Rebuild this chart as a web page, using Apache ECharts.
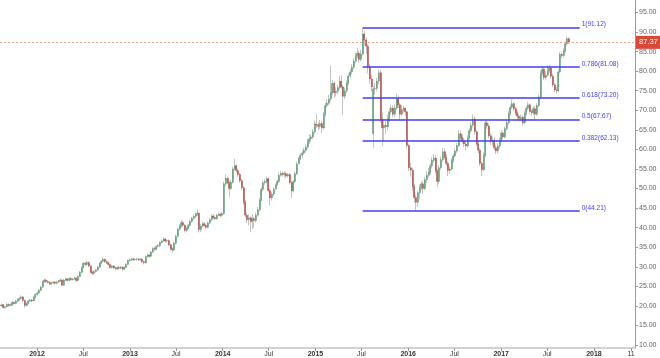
<!DOCTYPE html>
<html><head><meta charset="utf-8">
<script src="https://cdn.jsdelivr.net/npm/echarts@6/dist/echarts.min.js"></script>
<style>html,body{margin:0;padding:0;background:#fff}#c{width:660px;height:358px}</style>
</head><body><div id="c"></div>
<script>
// ---- data (weekly candles) ----
const startDate = '2011-08-08';
const opens = [
20.2,20.0,20.3,19.6,19.8,20.4,20.1,20.3,20.9,20.6,
21.2,21.6,21.9,22.3,21.4,20.1,20.6,21.2,21.5,21.3,
22.2,22.9,23.3,24.0,24.8,26.2,26.6,26.2,26.0,25.6,
25.9,26.1,25.8,26.1,26.4,26.6,25.3,26.6,26.9,26.5,
27.0,26.7,26.9,27.1,26.5,27.5,28.6,29.8,30.9,30.6,
31.1,30.2,28.6,28.3,28.8,29.2,29.9,30.9,31.4,31.9,
31.3,31.0,30.6,29.8,30.2,29.7,29.5,29.8,29.6,29.9,
29.4,29.8,30.6,31.6,31.8,32.0,31.8,31.9,32.0,31.8,
31.9,31.3,31.0,32.6,33.0,32.7,33.8,34.7,34.5,35.2,
35.4,36.2,36.6,37.1,36.6,36.7,35.6,34.6,34.3,36.0,
37.8,39.6,40.4,41.3,40.6,39.3,39.8,40.6,41.6,42.4,
42.9,43.4,43.7,39.5,40.4,41.0,40.6,40.1,41.2,42.0,
43.0,42.6,42.3,43.2,43.4,43.1,43.6,51.2,52.6,51.5,
50.0,51.6,55.0,55.8,54.6,53.6,52.0,50.2,46.5,43.2,
42.0,42.5,41.6,42.3,41.8,43.2,44.6,47.0,49.8,51.5,
51.8,52.5,49.5,47.6,48.6,49.8,50.8,51.8,53.4,53.9,
53.6,53.8,53.2,53.6,51.5,49.4,51.8,53.8,56.3,57.6,
58.5,59.1,59.8,60.6,62.1,62.7,63.2,64.5,66.5,66.3,
65.9,66.6,65.5,69.0,71.2,71.8,72.9,74.5,76.9,74.5,
74.9,75.8,77.4,76.0,73.6,75.0,77.0,78.8,79.8,81.0,
82.6,84.0,84.6,83.0,84.4,89.5,88.0,86.4,81.0,78.0,
64.0,75.5,75.6,77.5,79.6,67.8,65.5,66.2,65.8,67.8,
69.6,70.6,69.0,70.6,72.9,71.4,69.0,70.2,70.5,69.6,
61.0,55.3,54.7,50.5,47.7,46.5,48.9,50.2,51.2,50.0,
52.3,53.4,54.2,55.8,57.2,57.8,54.5,51.8,55.3,57.4,
59.4,58.0,56.4,54.6,55.0,57.2,58.3,59.6,61.0,64.0,
63.0,62.2,61.4,60.9,63.0,64.8,66.2,67.8,64.5,61.4,
59.8,56.4,54.8,58.5,66.8,66.0,63.5,62.0,62.3,60.4,
59.6,60.9,62.3,64.2,63.2,65.3,66.8,69.2,70.8,71.7,
70.4,69.3,68.5,67.9,68.2,66.8,69.2,70.5,71.4,69.7,
69.4,70.4,69.0,71.2,73.4,79.5,80.5,78.4,79.0,80.2,
80.8,78.7,76.5,75.2,75.0,79.8,84.3,84.0,85.2,87.0,
88.3];
const highs = [
20.5,20.6,20.5,20.1,20.7,20.6,20.6,21.2,21.1,21.5,
21.9,22.2,22.7,22.5,21.6,20.9,21.5,21.8,21.8,22.5,
23.2,23.6,24.3,25.1,26.5,27.0,26.9,26.6,26.3,26.2,
26.4,26.3,26.4,26.7,27.0,26.8,26.9,27.2,27.1,27.3,
27.3,27.2,27.4,27.3,27.8,28.9,30.1,31.3,31.3,31.5,
31.4,30.4,29.0,29.1,29.5,30.2,31.2,31.7,32.3,32.1,
31.7,31.3,30.9,30.5,30.5,30.0,30.1,30.2,30.2,30.1,
30.1,30.9,31.9,32.1,32.3,32.3,32.2,32.3,32.3,32.2,
32.2,31.6,32.9,33.4,33.3,34.1,35.0,35.1,35.5,35.8,
36.5,37.0,37.6,37.4,37.1,37.0,35.9,35.0,36.4,38.2,
40.0,40.9,41.9,41.8,40.9,40.3,41.0,42.1,42.8,43.4,
43.9,44.6,43.9,40.9,41.5,41.4,41.0,41.6,42.4,43.4,
43.4,43.1,43.6,43.9,43.8,44.0,51.8,53.6,53.1,51.9,
52.2,55.6,57.6,56.2,55.1,54.0,52.5,50.6,47.0,43.9,
43.4,42.9,43.5,42.7,43.8,45.3,47.6,50.3,52.0,52.4,
53.0,52.8,50.0,49.2,50.3,51.3,52.3,54.0,54.5,54.3,
54.4,54.3,54.0,53.9,51.9,52.2,54.3,56.8,58.1,59.0,
59.7,60.5,61.3,62.8,63.9,63.8,65.2,67.4,69.0,67.0,
67.5,67.4,69.6,71.9,72.8,74.0,81.5,77.8,77.4,75.9,
76.6,78.8,79.0,76.5,75.8,77.7,79.5,80.6,81.8,83.4,
84.8,85.9,85.2,85.5,91.12,90.3,88.6,86.9,81.8,78.9,
76.2,77.0,78.3,80.4,80.3,69.5,67.8,67.2,68.8,70.5,
71.4,71.3,71.5,74.3,73.8,71.9,71.4,71.2,70.7,69.9,
61.5,56.6,55.3,51.2,48.5,49.5,51.0,51.8,52.0,53.0,
54.4,55.2,56.5,58.0,58.8,58.5,55.0,56.0,58.2,60.4,
60.2,58.8,57.0,55.8,57.8,58.9,60.2,61.6,65.0,64.8,
63.8,63.0,62.0,63.6,65.4,67.0,69.0,68.4,65.0,62.0,
60.3,57.0,59.2,67.4,67.6,66.6,64.2,63.2,63.0,61.2,
61.6,63.0,64.9,64.6,65.9,67.5,69.8,71.5,72.8,72.1,
70.9,69.9,69.1,68.9,68.8,69.8,71.1,72.2,71.8,70.3,
71.0,71.0,71.8,74.0,80.2,81.4,80.9,80.0,81.5,81.6,
81.2,79.4,77.0,76.0,80.4,84.9,84.8,85.8,87.6,88.9,
88.7];
const lows = [
19.6,19.8,19.3,19.3,19.6,19.8,19.8,20.1,20.3,20.4,
20.9,21.3,21.6,21.0,19.5,19.8,20.4,21.0,20.9,21.1,
21.9,22.6,23.0,23.7,24.6,25.9,25.8,25.7,25.2,25.3,
25.6,25.4,25.5,25.9,26.1,25.0,25.1,26.3,26.2,26.3,
26.4,26.5,26.7,26.2,26.3,27.3,28.4,29.6,30.1,30.3,
29.9,28.3,27.9,28.0,28.5,28.9,29.6,30.6,31.1,31.0,
30.7,30.3,29.4,29.5,29.4,29.1,29.2,29.3,29.3,29.0,
29.1,29.6,30.4,31.3,31.5,31.5,31.5,31.6,31.5,31.5,
31.0,30.6,30.8,32.3,32.3,32.4,33.5,34.1,34.2,34.9,
35.0,35.9,36.3,36.2,36.2,35.2,34.0,33.6,34.0,35.7,
37.5,39.2,40.0,40.2,38.8,38.9,39.5,40.2,41.2,42.0,
42.5,43.0,38.8,38.9,40.0,40.2,39.6,39.8,40.9,41.7,
42.2,41.8,42.0,42.9,42.7,42.8,43.3,50.6,51.0,47.8,
49.6,51.2,54.6,54.0,53.0,51.4,49.6,45.8,42.6,41.2,
40.6,38.8,39.6,40.0,41.3,42.8,44.1,46.7,49.3,51.0,
51.3,49.0,45.6,46.9,48.1,50.3,51.2,51.4,53.0,53.0,
53.0,52.6,52.8,51.0,47.6,49.0,51.4,53.4,56.9,57.2,
57.8,58.6,59.2,60.0,61.4,61.9,62.6,64.0,65.4,64.9,
65.2,64.2,65.0,68.4,70.6,71.3,72.3,73.8,73.2,73.6,
74.2,75.3,75.5,68.8,72.9,74.4,76.5,78.2,79.2,80.4,
82.0,83.4,82.2,82.5,84.0,86.6,84.4,79.4,76.8,74.8,
60.4,74.0,74.8,76.6,66.9,60.8,62.0,64.0,64.8,67.0,
68.9,68.2,68.3,70.0,70.6,67.4,68.5,69.4,68.6,60.2,
54.5,53.0,49.4,46.4,44.21,45.2,47.4,49.6,48.6,49.6,
51.4,52.8,53.6,55.2,56.6,53.8,50.4,51.2,54.8,56.8,
57.4,55.8,53.2,53.8,54.6,56.6,58.0,59.1,60.6,62.2,
61.5,60.6,59.8,60.4,62.6,64.2,65.6,63.8,60.8,59.0,
55.8,53.2,54.4,58.0,65.2,62.8,61.2,61.0,59.8,58.8,
59.0,60.2,61.8,62.5,62.8,64.8,66.3,68.6,70.2,69.8,
68.7,67.8,67.2,67.3,66.1,66.4,68.7,70.0,69.1,68.6,
68.8,67.4,68.6,70.8,73.0,78.9,77.7,77.8,78.6,79.6,
78.0,75.9,74.6,74.3,74.6,79.4,83.2,83.4,84.8,86.5,
86.9];
const closes = [
20.0,20.3,19.6,19.8,20.4,20.1,20.3,20.9,20.6,21.2,
21.6,21.9,22.3,21.4,20.1,20.6,21.2,21.5,21.3,22.2,
22.9,23.3,24.0,24.8,26.2,26.6,26.2,26.0,25.6,25.9,
26.1,25.8,26.1,26.4,26.6,25.3,26.6,26.9,26.5,27.0,
26.7,26.9,27.1,26.5,27.5,28.6,29.8,30.9,30.6,31.1,
30.2,28.6,28.3,28.8,29.2,29.9,30.9,31.4,31.9,31.3,
31.0,30.6,29.8,30.2,29.7,29.5,29.8,29.6,29.9,29.4,
29.8,30.6,31.6,31.8,32.0,31.8,31.9,32.0,31.8,31.9,
31.3,31.0,32.6,33.0,32.7,33.8,34.7,34.5,35.2,35.4,
36.2,36.6,37.1,36.6,36.7,35.6,34.6,34.3,36.0,37.8,
39.6,40.4,41.3,40.6,39.3,39.8,40.6,41.6,42.4,42.9,
43.4,43.7,39.5,40.4,41.0,40.6,40.1,41.2,42.0,43.0,
42.6,42.3,43.2,43.4,43.1,43.6,51.2,52.6,51.5,50.0,
51.6,55.0,55.8,54.6,53.6,52.0,50.2,46.5,43.2,42.0,
42.5,41.6,42.3,41.8,43.2,44.6,47.0,49.8,51.5,51.8,
52.5,49.5,47.6,48.6,49.8,50.8,51.8,53.4,53.9,53.6,
53.8,53.2,53.6,51.5,49.4,51.8,53.8,56.3,57.6,58.5,
59.1,59.8,60.6,62.1,62.7,63.2,64.5,66.5,66.3,65.9,
66.6,65.5,69.0,71.2,71.8,72.9,74.5,76.9,74.5,74.9,
75.8,77.4,76.0,73.6,75.0,77.0,78.8,79.8,81.0,82.6,
84.0,84.6,83.0,84.4,89.5,88.0,86.4,81.0,78.0,76.0,
75.5,75.6,77.5,79.6,67.8,65.5,66.2,65.8,67.8,69.6,
70.6,69.0,70.6,72.9,71.4,69.0,70.2,70.5,69.6,61.0,
55.3,54.7,50.5,47.7,46.5,48.9,50.2,51.2,50.0,52.3,
53.4,54.2,55.8,57.2,57.8,54.5,51.8,55.3,57.4,59.4,
58.0,56.4,54.6,55.0,57.2,58.3,59.6,61.0,64.0,63.0,
62.2,61.4,60.9,63.0,64.8,66.2,67.8,64.5,61.4,59.8,
56.4,54.8,58.5,66.8,66.0,63.5,62.0,62.3,60.4,59.6,
60.9,62.3,64.2,63.2,65.3,66.8,69.2,70.8,71.7,70.4,
69.3,68.5,67.9,68.2,66.8,69.2,70.5,71.4,69.7,69.4,
70.4,69.0,71.2,73.4,79.5,80.5,78.4,79.0,80.2,80.8,
78.7,76.5,75.2,75.0,79.8,84.3,84.0,85.2,87.0,88.3,
87.37];

const fibLevels = ['1', '0.786', '0.618', '0.5', '0.382', '0'];
const fibValues = [91.12, 81.08, 73.20, 67.67, 62.13, 44.21];
const fibStart = '2015-07-06';
const fibEnd = '2017-11-06';
const lastPrice = 87.37;

const yTicks = [10,15,20,25,30,35,40,45,50,55,60,65,70,75,80,85,90,95];
const xTickDates = ['2012-01-01','2012-07-01','2013-01-01','2013-07-01','2014-01-01','2014-07-01',
  '2015-01-01','2015-07-01','2016-01-01','2016-07-01','2017-01-01','2017-07-01','2018-01-01','2018-05-27'];
const xTickLabels = ['2012','Jul','2013','Jul','2014','Jul','2015','Jul','2016','Jul','2017','Jul','2018','11'];

// ---- build ----
const DAY = 86400000, YEAR = 365.25 * DAY;
const t0 = Date.parse(startDate);
const times = closes.map((_, i) => t0 + i * 7 * DAY);
const wickData = times.map((t, i) => [t, opens[i], closes[i], lows[i], highs[i]]);
const bodyData = times.map((t, i) => [t, opens[i], closes[i],
  Math.min(opens[i], closes[i]), Math.max(opens[i], closes[i])]);
const xTickTimes = xTickDates.map(d => Date.parse(d));
const ref2012 = Date.parse('2012-01-01');
const xMin = ref2012 - (37 / 92.8) * YEAR;
const xMax = ref2012 + (598 / 92.8) * YEAR;

const fibStartT = Date.parse(fibStart), fibEndT = Date.parse(fibEnd);
const fibLines = fibValues.map((v, i) => [
  { name: fibLevels[i] + '(' + v.toFixed(2) + ')', coord: [fibStartT, v] },
  { coord: [fibEndT, v] }
]);

const font = 'Liberation Sans, Arial, sans-serif';
const chart = echarts.init(document.getElementById('c'), null, { renderer: 'canvas' });
chart.setOption({
  animation: false,
  backgroundColor: '#ffffff',
  grid: { left: 0, right: 25, top: 0, bottom: 10, containLabel: false },
  xAxis: {
    type: 'value', min: xMin, max: xMax, scale: true,
    splitLine: { show: false },
    axisLine: { show: true, lineStyle: { color: '#c4c4c4', width: 1.5 } },
    axisTick: { show: true, customValues: xTickTimes, length: 3, lineStyle: { color: '#999' } },
    axisLabel: {
      customValues: xTickTimes, fontSize: 7, color: '#333', fontFamily: font, margin: 3,
      formatter: function (v) {
        let idx = -1;
        for (let k = 0; k < xTickTimes.length; k++) if (Math.abs(xTickTimes[k] - v) < DAY) idx = k;
        if (idx < 0) return '';
        const s = xTickLabels[idx];
        return /^\d{4}$/.test(s) ? '{y|' + s + '}' : s;
      },
      rich: { y: { fontWeight: 'bold', fontSize: 7, color: '#333', fontFamily: font } }
    }
  },
  yAxis: {
    type: 'value', position: 'right', min: 9.23, max: 98.2, scale: true,
    splitLine: { show: false },
    axisLine: { show: true, lineStyle: { color: '#9a9a9a', width: 1 } },
    axisTick: { show: true, customValues: yTicks, length: 3, lineStyle: { color: '#9a9a9a' } },
    axisLabel: {
      customValues: yTicks, fontSize: 7, color: '#666', fontFamily: font, margin: 4,
      formatter: v => v.toFixed(2)
    }
  },
  series: [
    {
      type: 'candlestick', name: 'wick', data: wickData, barWidth: 1, clip: false,
      itemStyle: { color: '#c9c9c9', color0: '#c9c9c9', borderColor: '#c4c4c4', borderColor0: '#c4c4c4', borderWidth: 1 },
      markLine: {
        silent: true, symbol: 'none', animation: false,
        data: [{ yAxis: lastPrice }],
        lineStyle: { type: [2, 2], color: '#f1a58e', width: 1 },
        label: {
          show: true, position: 'end', distance: 1, formatter: lastPrice.toFixed(2),
          color: '#fff', backgroundColor: '#d9493a', padding: [3, 3, 2, 3],
          fontSize: 7.5, fontFamily: font
        }
      }
    },
    {
      type: 'candlestick', name: 'body', data: bodyData, barWidth: 1.5, clip: false,
      itemStyle: { color: '#57986f', color0: '#ad453b', borderColor: '#57986f', borderColor0: '#ad453b', borderWidth: 0.4 },
      markLine: {
        silent: true, symbol: 'none', animation: false,
        data: fibLines,
        lineStyle: { type: 'solid', color: '#3f3ff2', width: 1.5 },
        label: {
          show: true, position: 'end', distance: 2, formatter: '{b}',
          color: '#3f3ff2', fontSize: 6.5, fontFamily: font, offset: [0, -3]
        }
      }
    }
  ]
});
</script></body></html>
